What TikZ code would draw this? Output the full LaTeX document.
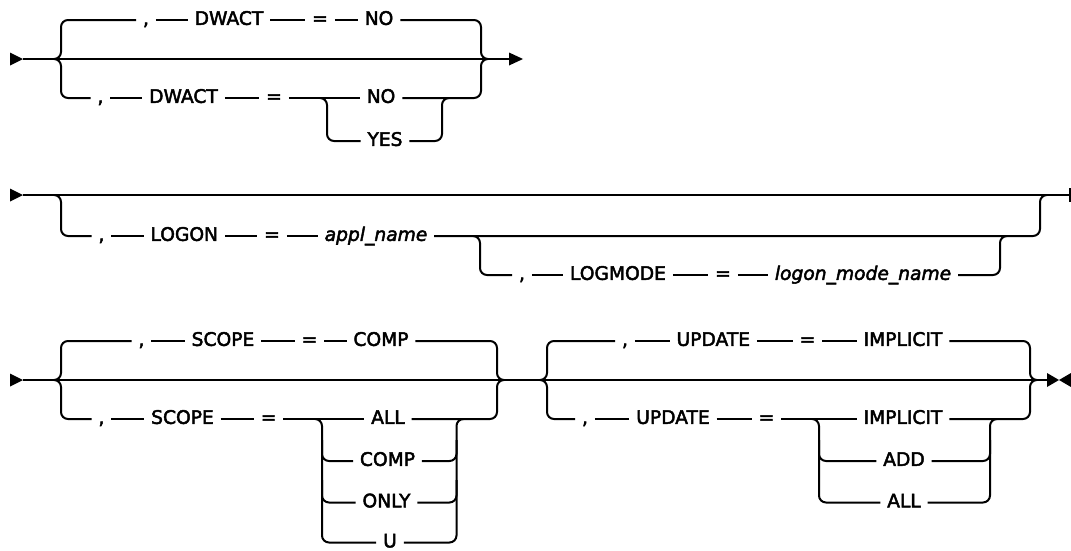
\documentclass[tikz,border=0pt]{standalone}
\usepackage{fontspec}
\setmainfont{DejaVu Sans}
\newfontfamily\rrfont{DejaVu Sans}[FakeBold=2.5]
\begin{document}
\begin{tikzpicture}[x=0.75pt,y=-0.75pt,
  tok/.style={inner xsep=5pt,inner ysep=0pt,text height=0.73em,text depth=0pt,font=\rrfont\fontsize{14}{16}\selectfont},
  var/.style={tok,font=\rrfont\fontsize{14}{16}\selectfont\itshape},
  rail/.style={line width=1.5pt,rounded corners=5.25pt},
  blk/.style={fill=black}]
\useasboundingbox (0,0) rectangle (1071,550);

% ================= Row 1 =================
\coordinate (r1s) at (23,59);
\coordinate (r1e) at (510,59);
\coordinate (j1l) at (54,59);
\coordinate (j1r) at (488,59);
\fill[blk] (10,52.5) -- (r1s) -- (10,65.5) -- cycle;
\fill[blk] (509,52.5) -- (523,59) -- (509,65.5) -- cycle;
\draw[rail] (r1s) -- (r1e);
% top branch
\node[tok] (a1) at (146,20) {,};
\node[tok] (a2) at (229,20) {DWACT};
\node[tok] (a3) at (320,20) {=};
\node[tok] (a4) at (379,20) {NO};
\draw[rail] (j1l) -| (61,20) -- (a1.west);
\draw[rail] (a1) -- (a2) -- (a3) -- (a4);
\draw[rail] (a4.east) -| (481,59) -- (j1r);
% bottom branch
\node[tok] (b1) at (100.5,98) {,};
\node[tok] (b2) at (183.5,98) {DWACT};
\node[tok] (b3) at (274,98) {=};
\node[tok] (b4) at (381,98) {NO};
\node[tok] (b5) at (385,141) {YES};
\draw[rail] (j1l) -| (61,98) -- (b1.west);
\draw[rail] (b1) -- (b2) -- (b3) -- (b4);
\draw[rail] (b4.east) -| (481,59) -- (j1r);
\coordinate (k1) at (320,98);
\coordinate (k2) at (449,98);
\draw[rail] (k1) -| (327,141) -- (b5.west);
\draw[rail] (b5.east) -| (442,98) -- (k2);

% ================= Row 2 =================
\coordinate (r2s) at (23,195);
\coordinate (r2e) at (1070,195);
\coordinate (j2l) at (54,195);
\coordinate (j2r) at (1047,195);
\fill[blk] (10,188.5) -- (r2s) -- (10,201.5) -- cycle;
\draw[rail] (r2s) -- (r2e);
\draw[line width=1.8pt] (1070,188) -- (1070,202);
\node[tok] (c1) at (101.5,236) {,};
\node[tok] (c2) at (184.3,236) {LOGON};
\node[tok] (c3) at (272,236) {=};
\node[var] (c4) at (376,236) {appl\_name};
\draw[rail] (j2l) -| (61,236) -- (c1.west);
\draw[rail] (c1) -- (c2) -- (c3) -- (c4);
\draw[rail] (c4.east) -| (1040,195) -- (j2r);
\node[tok] (d1) at (522,275) {,};
\node[tok] (d2) at (618,275) {LOGMODE};
\node[tok] (d3) at (723,275) {=};
\node[var] (d4) at (863,275) {logon\_mode\_name};
\coordinate (k3) at (473,236);
\coordinate (k4) at (1007,236);
\draw[rail] (k3) -| (480,275) -- (d1.west);
\draw[rail] (d1) -- (d2) -- (d3) -- (d4);
\draw[rail] (d4.east) -| (1000,236) -- (k4);

% ================= Row 3 =================
\coordinate (r3s) at (23,380);
\coordinate (r3e) at (1048,380);
\coordinate (j3l) at (54,380);
\coordinate (j3a) at (504,380);
\coordinate (j3b) at (540,380);
\coordinate (j3r) at (1037,380);
\fill[blk] (10,373.5) -- (r3s) -- (10,386.5) -- cycle;
\draw[rail] (r3s) -- (r3e);
\fill[blk] (1047,373) -- (1059,380) -- (1047,387) -- cycle;
\fill[blk] (1071,373) -- (1059,380) -- (1071,387) -- cycle;
% SCOPE top
\node[tok] (e1) at (141.5,341) {,};
\node[tok] (e2) at (223,341) {SCOPE};
\node[tok] (e3) at (309.5,341) {=};
\node[tok] (e4) at (381,341) {COMP};
\draw[rail] (j3l) -| (61,341) -- (e1.west);
\draw[rail] (e1) -- (e2) -- (e3) -- (e4);
\draw[rail] (e4.east) -| (497,380) -- (j3a);
% SCOPE bottom
\node[tok] (f1) at (101.5,419) {,};
\node[tok] (f2) at (182.5,419) {SCOPE};
\node[tok] (f3) at (268.6,419) {=};
\node[tok] (f4) at (388,419) {ALL};
\node[tok] (f5) at (387.5,461) {COMP};
\node[tok] (f6) at (386.5,502.5) {ONLY};
\node[tok] (f7) at (390,542.5) {U};
\draw[rail] (j3l) -| (61,419) -- (f1.west);
\draw[rail] (f1) -- (f2) -- (f3) -- (f4);
\draw[rail] (f4.east) -| (497,380) -- (j3a);
\coordinate (k5) at (315,419);
\coordinate (k6) at (463.5,419);
\draw[rail] (k5) -| (322,542.5) -- (f7.west);
\draw[rail] (322,440) |- (f5.west);
\draw[rail] (322,480) |- (f6.west);
\draw[rail] (f7.east) -| (456.5,419) -- (k6);
\draw[rail] (f5.east) -| (456.5,440);
\draw[rail] (f6.east) -| (456.5,480);
% UPDATE top
\node[tok] (g1) at (625,341) {,};
\node[tok] (g2) at (713.3,341) {UPDATE};
\node[tok] (g3) at (807.5,341) {=};
\node[tok] (g4) at (903,341) {IMPLICIT};
\draw[rail] (j3b) -| (547,341) -- (g1.west);
\draw[rail] (g1) -- (g2) -- (g3) -- (g4);
\draw[rail] (g4.east) -| (1030,380) -- (j3r);
% UPDATE bottom
\node[tok] (h1) at (585,419) {,};
\node[tok] (h2) at (673,419) {UPDATE};
\node[tok] (h3) at (766.5,419) {=};
\node[tok] (h4) at (903,419) {IMPLICIT};
\node[tok] (h5) at (904,461) {ADD};
\node[tok] (h6) at (904,502.5) {ALL};
\draw[rail] (j3b) -| (547,419) -- (h1.west);
\draw[rail] (h1) -- (h2) -- (h3) -- (h4);
\draw[rail] (h4.east) -| (1030,380) -- (j3r);
\coordinate (k7) at (812,419);
\coordinate (k8) at (997,419);
\draw[rail] (k7) -| (819,502.5) -- (h6.west);
\draw[rail] (819,440) |- (h5.west);
\draw[rail] (h6.east) -| (990,419) -- (k8);
\draw[rail] (h5.east) -| (990,440);
\end{tikzpicture}
\end{document}
